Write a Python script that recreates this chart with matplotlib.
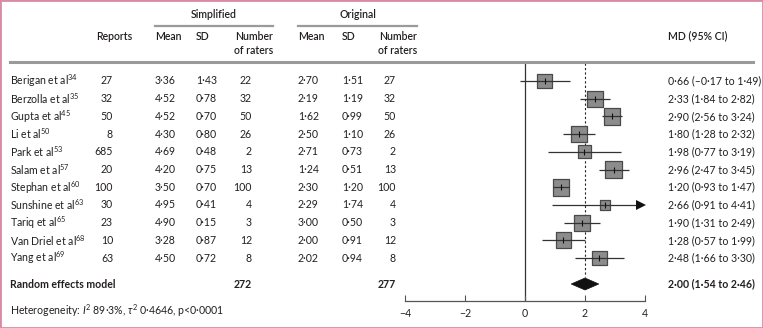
import matplotlib
matplotlib.use("Agg")
import matplotlib.pyplot as plt
import matplotlib.transforms as mtransforms
from matplotlib.patches import Polygon, Rectangle
from matplotlib.lines import Line2D

plt.rcParams['font.family'] = ['Lato', 'DejaVu Sans']
plt.rcParams['mathtext.fontset'] = 'custom'
plt.rcParams['mathtext.rm'] = 'Lato'
plt.rcParams['mathtext.it'] = 'Lato:italic'
plt.rcParams['mathtext.bf'] = 'Lato:bold'

# datos
estudios = ["Berigan et al", "Berzolla et al", "Gupta et al", "Li et al", "Park et al",
            "Salam et al", "Stephan et al", "Sunshine et al", "Tariq et al",
            "Van Driel et al", "Yang et al"]
referencias = ["34", "35", "45", "50", "53", "57", "60", "63", "65", "68", "69"]
reportes = [27, 32, 50, 8, 685, 20, 100, 30, 23, 10, 63]
simp_media = [3.36, 4.52, 4.52, 4.30, 4.69, 4.20, 3.50, 4.95, 4.90, 3.28, 4.50]
simp_sd = [1.43, 0.78, 0.70, 0.80, 0.48, 0.75, 0.70, 0.41, 0.15, 0.87, 0.72]
simp_n = [22, 32, 50, 26, 2, 13, 100, 4, 3, 12, 8]
orig_media = [2.70, 2.19, 1.62, 2.50, 2.71, 1.24, 2.30, 2.29, 3.00, 2.00, 2.02]
orig_sd = [1.51, 1.19, 0.99, 1.10, 0.73, 0.51, 1.20, 1.74, 0.50, 0.91, 0.94]
orig_n = [27, 32, 50, 26, 2, 13, 100, 4, 3, 12, 8]
md = [0.66, 2.33, 2.90, 1.80, 1.98, 2.96, 1.20, 2.66, 1.90, 1.28, 2.48]
ic_inf = [-0.17, 1.84, 2.56, 1.28, 0.77, 2.47, 0.93, 0.91, 1.31, 0.57, 1.66]
ic_sup = [1.49, 2.82, 3.24, 2.32, 3.19, 3.45, 1.47, 4.41, 2.49, 1.99, 3.30]
pesos = [8.6, 10.2, 10.7, 10.2, 6.8, 10.7, 10.7, 4.1, 9.8, 9.4, 8.6]
md_total, inf_total, sup_total = 2.00, 1.54, 2.46
total_simp, total_orig = 272, 277
heterogeneidad = "Heterogeneity: $I^2$ 89·3%, $\\tau^2$ 0·4646, p<0·0001"
ticks_x = [-4, -2, 0, 2, 4]

W, H = 763, 328
TXT = '#231f20'
FS = 7.6


def num(v):
    s = f"{abs(v):.2f}".replace(".", "·")
    return ("–" + s) if v < 0 else s


def fx(px):
    return px / W


def fy(py):
    return 1 - py / H


fig = plt.figure(figsize=(W / 100, H / 100), dpi=100)
fig.patch.set_facecolor('white')

# eje del forest plot: filas cada 17.7 px, primera fila en y=81
paso = 17.7
y0 = 81
y_top, y_bot = 63, 301
ax = fig.add_axes([fx(405), fy(y_bot), fx(645) - fx(405), (y_bot - y_top) / H])
ax.set_xlim(-4, 4)
ax.set_ylim((y_bot - y0) / paso, (y_top - y0) / paso)
ax.patch.set_alpha(0)
for lado in ['top', 'right', 'left']:
    ax.spines[lado].set_visible(False)
ax.spines['bottom'].set_color('#555555')
ax.spines['bottom'].set_linewidth(0.9)
ax.set_yticks([])
ax.set_xticks(ticks_x)
ax.set_xticklabels([str(t).replace("-", "\u2212") for t in ticks_x])
ax.tick_params(axis='x', direction='in', length=4, width=0.8, color='#555555',
               labelsize=FS, labelcolor=TXT, pad=5)

filas = list(range(len(estudios)))
y_total = (284 - y0) / paso
y_het = (311 - y0) / paso

ax.axvline(0, color='#333333', lw=0.9, zorder=1)
ax.vlines(md_total, ax.get_ylim()[1], y_total - 0.4, colors='#222222',
          linestyles=(0, (2, 2)), lw=0.8, zorder=1)

lados = [0.72 * 5.1 * p ** 0.5 for p in pesos]  # lado en puntos
ax.scatter(md, filas, marker='s', s=[l ** 2 for l in lados], facecolor='#8c8c8c',
           edgecolor='#4a4a4a', linewidth=0.9, zorder=2)
xmax = ax.get_xlim()[1]
for i in filas:
    hi = min(ic_sup[i], xmax)
    if ic_sup[i] > xmax:
        ax.hlines(i, ic_inf[i], xmax - 0.15, colors='#333333', lw=0.9, zorder=3)
        ax.plot(xmax - 0.12, i, marker='>', ms=6.5, color='#111111', mew=0, zorder=3,
                clip_on=False)
    else:
        ax.hlines(i, ic_inf[i], hi, colors='#333333', lw=0.9, zorder=3)
ax.plot(md, filas, linestyle='none', marker='|', ms=4, mew=0.8, color='#111111', zorder=4)

h = 6 / paso
ax.add_patch(Polygon([(inf_total, y_total), (md_total, y_total - h),
                      (sup_total, y_total), (md_total, y_total + h)],
                     closed=True, facecolor='#111111', edgecolor='#111111', lw=0.5,
                     zorder=3, clip_on=False))

# tabla
tr = mtransforms.blended_transform_factory(fig.transFigure, ax.transData)
for i in filas:
    fig.text(fx(10), i, f"{estudios[i]}$^{{{referencias[i]}}}$", transform=tr,
             ha='left', va='center', fontsize=FS, color=TXT)
    fig.text(fx(113), i, str(reportes[i]), transform=tr, ha='right', va='center',
             fontsize=FS, color=TXT)
    fig.text(fx(155), i, num(simp_media[i]), transform=tr, ha='left', va='center',
             fontsize=FS, color=TXT)
    fig.text(fx(196), i, num(simp_sd[i]), transform=tr, ha='left', va='center',
             fontsize=FS, color=TXT)
    fig.text(fx(252), i, str(simp_n[i]), transform=tr, ha='right', va='center',
             fontsize=FS, color=TXT)
    fig.text(fx(298), i, num(orig_media[i]), transform=tr, ha='left', va='center',
             fontsize=FS, color=TXT)
    fig.text(fx(342), i, num(orig_sd[i]), transform=tr, ha='left', va='center',
             fontsize=FS, color=TXT)
    fig.text(fx(396), i, str(orig_n[i]), transform=tr, ha='right', va='center',
             fontsize=FS, color=TXT)
    fig.text(fx(668), i, f"{num(md[i])} ({num(ic_inf[i])} to {num(ic_sup[i])})",
             transform=tr, ha='left', va='center', fontsize=FS, color=TXT)

fig.text(fx(10), y_total, "Random effects model", transform=tr, ha='left', va='center',
         fontsize=FS, color=TXT, fontweight='bold')
fig.text(fx(252), y_total, str(total_simp), transform=tr, ha='right', va='center',
         fontsize=FS, color=TXT, fontweight='bold')
fig.text(fx(396), y_total, str(total_orig), transform=tr, ha='right', va='center',
         fontsize=FS, color=TXT, fontweight='bold')
fig.text(fx(668), y_total, f"{num(md_total)} ({num(inf_total)} to {num(sup_total)})",
         transform=tr, ha='left', va='center', fontsize=FS, color=TXT, fontweight='bold')
fig.text(fx(10), y_het, heterogeneidad, transform=tr, ha='left', va='center',
         fontsize=FS, color=TXT)

# encabezados
enc = dict(fontsize=FS, color=TXT, fontweight='semibold')
fig.text(fx(214), fy(15), "Simplified", ha='center', va='center', **enc)
fig.text(fx(357.5), fy(15), "Original", ha='center', va='center', **enc)
fig.add_artist(Line2D([fx(155), fx(273)], [fy(25.5), fy(25.5)], color='#9a9a9a', lw=1.6))
fig.add_artist(Line2D([fx(298), fx(417)], [fy(25.5), fy(25.5)], color='#9a9a9a', lw=1.6))
fig.text(fx(96), fy(36), "Reports", ha='left', va='center', **enc)
fig.text(fx(155), fy(36), "Mean", ha='left', va='center', **enc)
fig.text(fx(196), fy(36), "SD", ha='left', va='center', **enc)
fig.text(fx(273), fy(36), "Number", ha='right', va='center', **enc)
fig.text(fx(273), fy(50), "of raters", ha='right', va='center', **enc)
fig.text(fx(298), fy(36), "Mean", ha='left', va='center', **enc)
fig.text(fx(342), fy(36), "SD", ha='left', va='center', **enc)
fig.text(fx(417), fy(36), "Number", ha='right', va='center', **enc)
fig.text(fx(417), fy(50), "of raters", ha='right', va='center', **enc)
fig.text(fx(668), fy(36), "MD (95% CI)", ha='left', va='center', **enc)
fig.add_artist(Line2D([fx(10), fx(753)], [fy(62), fy(62)], color='#9a9a9a', lw=2.2))

# marco rosa
fig.add_artist(Rectangle((0, 0), 1, 1, transform=fig.transFigure, fill=False,
                         edgecolor='#d98aa3', lw=2.0))

fig.savefig("out.png", dpi=100)
